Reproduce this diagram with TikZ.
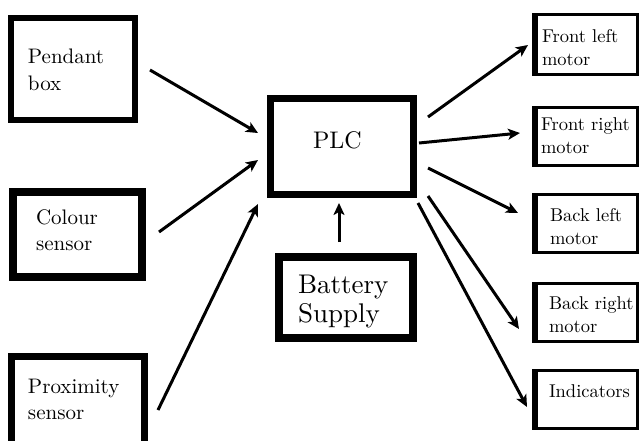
\documentclass[tikz,border=0pt]{standalone}
\usepackage{fontspec}
\setmainfont{lmroman10-regular.otf}
\usetikzlibrary{arrows.meta}
\hfuzz=100pt
\newcommand\btext[5]{\parbox[c][#2][t]{#1}{\raggedright\leftskip=#3\relax\rule{0pt}{#4}#5}}
\tikzset{
  blk/.style={draw, inner sep=0pt, outer sep=0pt},
  side/.style={blk, font=\fontsize{21}{27}\selectfont},
  motor/.style={blk, line width=3pt, font=\fontsize{18.5}{23}\selectfont,
    path picture={\fill (path picture bounding box.north west) rectangle ([xshift=4pt]path picture bounding box.south west);}},
  arr/.style={line width=3pt, -{Stealth[length=12pt,width=11pt,inset=3pt]}}
}
\begin{document}
\begin{tikzpicture}[x=1pt,y=-1pt]
\fill[white] (0,0) rectangle (639,440);
\useasboundingbox (0,0) rectangle (639,440);

\node[side, line width=6pt] (pendant) at (73,69) {\btext{124pt}{102pt}{17pt}{45pt}{Pendant\\box}};
\node[side, line width=8pt, font=\fontsize{21}{26}\selectfont] (colour) at (77.5,234.5) {\btext{129pt}{85pt}{23pt}{32pt}{Colour\\sensor}};
\node[side, line width=7pt, font=\fontsize{21}{26}\selectfont] (prox) at (78,408.25) {\btext{133pt}{103.5pt}{16.5pt}{36.5pt}{Proximity\\sensor}};
\node[blk, line width=7pt, font=\fontsize{24}{30}\selectfont] (plc) at (342,146.5) {\btext{143pt}{96pt}{42.5pt}{49.5pt}{PLC}};
\node[blk, line width=8pt, font=\fontsize{27}{29}\selectfont] (battery) at (346,297.5) {\btext{134pt}{81pt}{19pt}{36pt}{Battery\\Supply}};

\node[motor] (fl) at (585.5,44.5) {\btext{104pt}{60pt}{8.5pt}{27.5pt}{\mbox{Front left}\\motor}};
\node[motor] (fr) at (585.5,136.5) {\btext{104pt}{58pt}{7.5pt}{22.5pt}{\mbox{Front right}\\motor}};
\node[motor] (bl) at (585.5,223.5) {\btext{104pt}{58pt}{16.5pt}{26.5pt}{\mbox{Back left}\\motor}};
\node[motor] (br) at (585.5,312.5) {\btext{104pt}{58pt}{15.5pt}{25.5pt}{\mbox{Back right}\\motor}};
\node[motor] (ind) at (585.5,399.5) {\btext{104pt}{58pt}{15.5pt}{26.5pt}{\mbox{Indicators}}};

\draw[arr] ([shift={(15,1)}]pendant.east) -- ([shift={(-12.5,-13.5)}]plc.west);
\draw[arr] ([shift={(17,-2.5)}]colour.east) -- ([shift={(-12.5,13.5)}]plc.west);
\draw[arr] ([shift={(13.5,53.5)}]prox.north east) -- ([shift={(-12.5,9.5)}]plc.south west);
\draw[arr] ([shift={(-7,-15)}]battery.north) -- ([shift={(-3,8.5)}]plc.south);
\draw[arr] ([shift={(14.5,-29.5)}]plc.east) -- ([shift={(-5.5,0.5)}]fl.west);
\draw[arr] ([shift={(5.5,-3.5)}]plc.east) -- ([shift={(-13.5,-3.5)}]fr.west);
\draw[arr] ([shift={(14.5,21.5)}]plc.east) -- ([shift={(-15.5,-10.5)}]bl.west);
\draw[arr] ([shift={(14.5,1.5)}]plc.south east) -- ([shift={(-14.5,16.5)}]br.west);
\draw[arr] ([shift={(4.5,8.5)}]plc.south east) -- ([shift={(-6.5,7.5)}]ind.west);
\end{tikzpicture}
\end{document}
